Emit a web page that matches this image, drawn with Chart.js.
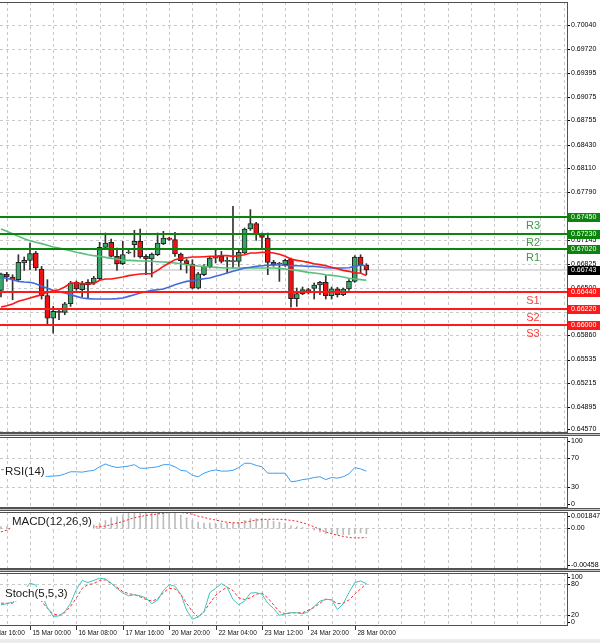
<!DOCTYPE html>
<html>
<head>
<meta charset="utf-8">
<script src="https://cdn.jsdelivr.net/npm/chart.js@4"></script>
<style>
html, body { margin: 0; padding: 0; background: #fff; }
#wrap { position: relative; width: 600px; height: 643px; overflow: hidden; background: #fff; }
#wrap canvas { position: absolute; left: 0; }
.sep { position: absolute; left: 0; width: 600px; height: 1px; background: #c4c4c4; border-top: 1px solid #555; border-bottom: 1px solid #555; z-index: 3; }
.foot { position: absolute; left: 0; top: 639px; width: 600px; height: 4px; background: #ececec; }
</style>
</head>
<body>
<div id="wrap">
  <canvas id="main" width="600" height="434" style="top:0"></canvas>
  <canvas id="rsi" width="600" height="73" style="top:436px"></canvas>
  <canvas id="macd" width="600" height="59" style="top:511px"></canvas>
  <canvas id="stoch" width="600" height="71" style="top:572px"></canvas>
  <div class="sep" style="top:433px"></div>
  <div class="sep" style="top:508px"></div>
  <div class="sep" style="top:569px"></div>
  <div class="foot"></div>
</div>
<script>
// H4 candles, oldest first
const candleOpen = [0.66467,0.66682,0.66647,0.66611,0.66835,0.66871,0.66970,0.66754,0.66395,0.66094,
  0.66184,0.66171,0.66287,0.66575,0.66476,0.66543,0.66566,0.66624,0.67046,0.67114,
  0.66925,0.66826,0.66970,0.67082,0.67127,0.66925,0.66889,0.66947,0.67096,0.67172,
  0.67149,0.66956,0.66867,0.66822,0.66498,0.66678,0.66781,0.66902,0.66925,0.66858,
  0.66853,0.66858,0.66970,0.67293,0.67365,0.67217,0.67172,0.66844,0.66822,0.66813,
  0.66889,0.66355,0.66418,0.66476,0.66494,0.66539,0.66575,0.66395,0.66489,0.66409,
  0.66485,0.66588,0.66916,0.66804];
const candleHigh = [0.66700,0.66709,0.66678,0.66947,0.66916,0.67105,0.66992,0.66790,0.66611,0.66251,
  0.66206,0.66305,0.66588,0.66593,0.66588,0.66611,0.66656,0.67114,0.67239,0.67158,
  0.67037,0.67127,0.67015,0.67275,0.67293,0.66947,0.66970,0.67239,0.67262,0.67181,
  0.67248,0.66970,0.66889,0.66880,0.66709,0.66813,0.66916,0.67015,0.66992,0.66916,
  0.67598,0.67015,0.67307,0.67554,0.67383,0.67239,0.67239,0.66871,0.66844,0.66889,
  0.66902,0.66498,0.66512,0.66494,0.66566,0.66588,0.66665,0.66512,0.66507,0.66498,
  0.66611,0.66934,0.66947,0.66826];
const candleLow = [0.66377,0.66588,0.66341,0.66588,0.66736,0.66745,0.66736,0.66350,0.66004,0.65892,
  0.66072,0.66139,0.66251,0.66467,0.66377,0.66355,0.66543,0.66611,0.67033,0.66916,
  0.66736,0.66813,0.66961,0.66916,0.66902,0.66678,0.66647,0.66934,0.67082,0.67140,
  0.66925,0.66745,0.66700,0.66485,0.66485,0.66665,0.66768,0.66835,0.66835,0.66700,
  0.66768,0.66790,0.66961,0.67275,0.67140,0.67037,0.66678,0.66790,0.66588,0.66790,
  0.66242,0.66251,0.66409,0.66418,0.66350,0.66409,0.66350,0.66350,0.66377,0.66395,
  0.66467,0.66575,0.66700,0.66678];
const candleClose = [0.66691,0.66647,0.66611,0.66844,0.66871,0.66961,0.66768,0.66395,0.66094,0.66184,
  0.66171,0.66287,0.66566,0.66485,0.66552,0.66575,0.66633,0.67046,0.67105,0.66925,
  0.66826,0.66947,0.66972,0.67127,0.66916,0.66889,0.66956,0.67105,0.67172,0.67154,
  0.66956,0.66867,0.66826,0.66498,0.66691,0.66790,0.66902,0.66925,0.66858,0.66860,
  0.66862,0.66979,0.67293,0.67365,0.67217,0.67181,0.66844,0.66813,0.66826,0.66871,
  0.66355,0.66422,0.66476,0.66449,0.66539,0.66575,0.66395,0.66489,0.66409,0.66485,
  0.66588,0.66916,0.66813,0.66743];

// moving averages
const maFast = [0.66242,0.66260,0.66283,0.66319,0.66341,0.66364,0.66386,0.66409,0.66440,0.66462,
  0.66476,0.66512,0.66566,0.66566,0.66557,0.66557,0.66557,0.66602,0.66620,0.66620,
  0.66633,0.66647,0.66665,0.66678,0.66687,0.66691,0.66691,0.66736,0.66790,0.66835,
  0.66880,0.66898,0.66907,0.66916,0.66916,0.66920,0.66925,0.66925,0.66934,0.66934,
  0.66925,0.66934,0.66947,0.66970,0.66970,0.66979,0.66979,0.66970,0.66952,0.66925,
  0.66889,0.66871,0.66858,0.66844,0.66826,0.66813,0.66799,0.66777,0.66759,0.66736,
  0.66723,0.66700,0.66700,0.66665];
const maMid = [0.66642,0.66629,0.66611,0.66588,0.66579,0.66575,0.66557,0.66521,0.66494,0.66467,
  0.66449,0.66431,0.66409,0.66386,0.66364,0.66355,0.66350,0.66350,0.66350,0.66350,
  0.66355,0.66364,0.66386,0.66409,0.66431,0.66449,0.66467,0.66476,0.66485,0.66512,
  0.66543,0.66566,0.66588,0.66597,0.66611,0.66624,0.66633,0.66656,0.66678,0.66700,
  0.66723,0.66745,0.66768,0.66777,0.66790,0.66799,0.66804,0.66808,0.66808,0.66804,
  0.66799,0.66799,0.66795,0.66790,0.66790,0.66781,0.66772,0.66768,0.66768,0.66768,
  0.66772,0.66790,0.66808,0.66799];
const maSlow = [0.67293,0.67262,0.67230,0.67194,0.67163,0.67136,0.67114,0.67096,0.67073,0.67051,
  0.67037,0.67019,0.67001,0.66979,0.66965,0.66947,0.66934,0.66925,0.66911,0.66898,
  0.66889,0.66871,0.66871,0.66867,0.66862,0.66862,0.66858,0.66853,0.66849,0.66844,
  0.66835,0.66826,0.66813,0.66804,0.66795,0.66790,0.66781,0.66777,0.66772,0.66768,
  0.66768,0.66768,0.66768,0.66768,0.66768,0.66768,0.66768,0.66768,0.66763,0.66754,
  0.66745,0.66736,0.66723,0.66709,0.66700,0.66691,0.66678,0.66669,0.66660,0.66647,
  0.66629,0.66620,0.66611,0.66602];

// oscillators
const rsi14 = [54,54,54,52,50,48,46,44.5,44.5,45,
  45.5,48,51,51,50.5,52,53,58,62,59,
  57,58,59,61,56,56,57,58,61,61,
  58,53,52,46,44,49,52,53.6,52,52,
  53,57,63,63,60,58,49,49,49,49,
  37,38,40,41,43,44,40,43,42,44,
  48,57,55,52];
const macdHist = [0.0002,0.0002,0.0003,0.0003,0.0003,0.0003,0.0002,0.0001,0.0000,-0.0001,
  -0.0001,0.0000,0.0001,0.0002,0.0002,0.0003,0.0004,0.0006,0.0009,0.0012,
  0.0013,0.0015,0.0017,0.0018,0.0019,0.0018,0.0018,0.0018,0.0019,0.0019,
  0.0017,0.0015,0.0012,0.0009,0.0007,0.0006,0.0006,0.0006,0.0006,0.0006,
  0.0006,0.0007,0.0009,0.0011,0.0011,0.0011,0.0009,0.0008,0.0007,0.0006,
  0.0003,0.0002,0.0001,0.0000,-0.0002,-0.0004,-0.0006,-0.0006,-0.0007,-0.0007,
  -0.0007,-0.0006,-0.0005,-0.0006];
const macdSignal = [-0.0004,-0.0002,0.00017,0.0003,0.00026,0.00017,0.00012,0.0001,0.00005,0.0,
  0.0,0.0,0.00003,0.00005,0.00008,0.0001,0.00017,0.00017,0.00026,0.00043,
  0.0006,0.00077,0.00099,0.0012,0.00133,0.00146,0.00154,0.00163,0.00171,0.0018,
  0.0018,0.0018,0.00171,0.00159,0.00137,0.00124,0.00107,0.00094,0.00081,0.00069,
  0.00064,0.0006,0.00069,0.00081,0.00094,0.00099,0.00103,0.00103,0.00103,0.00099,
  0.0009,0.00081,0.00064,0.00043,0.00017,-0.00013,-0.00039,-0.0006,-0.00077,-0.0009,
  -0.00103,-0.00107,-0.00107,-0.00103];
const stochMain = [40,42,45,54,67,81,77,60,35,18,
  19,27,43,69,86,82,86,90,89,81,
  71,62,57,59,57,53,42,49,67,78,
  75,60,30,13,17,27,63,71,80,73,
  50,40,47,62,63,60,43,33,20,23,
  25,25,23,27,37,47,50,50,31,42,
  63,82,85,80];
const stochSignal = [43,43,43,50,60,63,57,47,33,23,
  20,25,37,53,71,78,80,86,87,80,
  73,65,61,59,55,50,47,51,63,71,
  70,60,43,27,17,27,43,58,67,73,
  67,53,50,53,60,62,53,40,27,23,
  25,25,25,30,35,43,51,49,42,43,
  49,60,70,80];

// axes and levels
const priceTicks = [0.70040,0.69720,0.69395,0.69075,0.68755,0.68430,0.68110,0.67790,0.67465,
  0.67145,0.66825,0.66500,0.66180,0.65860,0.65535,0.65215,0.64895,0.64570];
const levelNames = ['R3','R2','R1','S1','S2','S3'];
const levelValues = [0.67450,0.67230,0.67020,0.66440,0.66220,0.66000];
const lastPrice = 0.66743;
const timeLabels = ['14 Mar 16:00','15 Mar 00:00','16 Mar 08:00','17 Mar 16:00','20 Mar 20:00',
  '22 Mar 04:00','23 Mar 12:00','24 Mar 20:00','28 Mar 00:00'];
const timeLabelBars = [-3,5,13,21,29,37,45,53,61];

const bars = candleOpen.map((_, i) => i);
const FONT = '"Liberation Sans", Arial, sans-serif';
const xScale = { type: 'linear', display: false, min: -0.17, max: 97.59, offset: false };

function pts(arr) { return arr.map((v, i) => ({ x: bars[i], y: v })); }

function vGrid(chart) {
  const { ctx, chartArea: a, scales: { x } } = chart;
  ctx.save();
  ctx.strokeStyle = '#c8c8c8'; ctx.lineWidth = 1; ctx.setLineDash([3, 3]);
  for (let b = -3; b <= 97; b += 4) {
    const px = Math.round(x.getPixelForValue(b)) + 0.5;
    if (px < a.left || px > a.right) continue;
    ctx.beginPath(); ctx.moveTo(px, a.top); ctx.lineTo(px, a.bottom); ctx.stroke();
  }
  ctx.restore();
}
function hGrid(chart, values) {
  const { ctx, chartArea: a, scales: { y } } = chart;
  ctx.save();
  ctx.strokeStyle = '#c8c8c8'; ctx.lineWidth = 1; ctx.setLineDash([3, 3]);
  values.forEach(v => {
    const py = Math.round(y.getPixelForValue(v)) + 0.5;
    ctx.beginPath(); ctx.moveTo(a.left, py); ctx.lineTo(a.right, py); ctx.stroke();
  });
  ctx.restore();
}
function frame(chart) {
  const { ctx, chartArea: a } = chart;
  ctx.save();
  ctx.strokeStyle = '#505050'; ctx.lineWidth = 1;
  ctx.beginPath();
  ctx.moveTo(a.left, a.top + 0.5); ctx.lineTo(a.right + 1, a.top + 0.5);
  ctx.moveTo(a.right + 0.5, a.top); ctx.lineTo(a.right + 0.5, a.bottom);
  ctx.moveTo(a.left, a.bottom - 0.5); ctx.lineTo(a.right + 1, a.bottom - 0.5);
  ctx.stroke();
  ctx.restore();
}
function yLabels(chart, values, fmt) {
  const { ctx, chartArea: a, scales: { y } } = chart;
  ctx.save();
  ctx.font = '7px ' + FONT; ctx.fillStyle = '#000';
  ctx.textBaseline = 'middle'; ctx.textAlign = 'left';
  values.forEach(v => {
    let py = y.getPixelForValue(v);
    py = Math.min(Math.max(py, a.top + 4), a.bottom - 4);
    ctx.fillRect(a.right + 1, Math.round(py), 2, 1);
    ctx.fillText(fmt(v), a.right + 4, py);
  });
  ctx.restore();
}
function panelTitle(chart, text, x, dy) {
  const { ctx, chartArea: a } = chart;
  ctx.save();
  ctx.font = '11.5px ' + FONT; ctx.textBaseline = 'middle'; ctx.textAlign = 'left';
  const w = ctx.measureText(text).width;
  const cy = a.top + dy;
  ctx.fillStyle = '#fff';
  ctx.fillRect(x - 1, cy - 7, w + 2, 14);
  ctx.fillStyle = '#1a1a1a';
  ctx.fillText(text, x, cy);
  ctx.restore();
}
function priceBox(chart, value, fill, label) {
  const { ctx, chartArea: a, scales: { y } } = chart;
  const py = Math.round(y.getPixelForValue(value));
  ctx.save();
  ctx.fillStyle = fill;
  ctx.fillRect(a.right + 1, py - 4, 600 - a.right - 1, 9);
  ctx.fillStyle = '#fff'; ctx.font = '7px ' + FONT;
  ctx.textBaseline = 'middle'; ctx.textAlign = 'left';
  ctx.fillText(label, a.right + 4, py + 0.5);
  ctx.restore();
}

const mainPlugin = {
  id: 'mainDecor',
  beforeDatasetsDraw(chart) {
    hGrid(chart, priceTicks);
    vGrid(chart);
    const { ctx, chartArea: a, scales: { y } } = chart;
    const py = Math.round(y.getPixelForValue(lastPrice));
    ctx.save(); ctx.strokeStyle = '#dcdcdc'; ctx.lineWidth = 2;
    ctx.beginPath(); ctx.moveTo(a.left, py); ctx.lineTo(a.right, py); ctx.stroke();
    ctx.restore();
  },
  afterDatasetsDraw(chart) {
    const { ctx, chartArea: a, scales: { y } } = chart;
    ctx.save();
    levelValues.forEach((v, k) => {
      const isR = levelNames[k][0] === 'R';
      const py = Math.round(y.getPixelForValue(v));
      ctx.strokeStyle = isR ? '#0a840a' : '#ff1a1a';
      ctx.lineWidth = 2;
      ctx.beginPath(); ctx.moveTo(a.left, py); ctx.lineTo(a.right, py); ctx.stroke();
      ctx.fillStyle = isR ? '#3d9e3d' : '#ff3b3b';
      ctx.font = '11px ' + FONT; ctx.textAlign = 'center'; ctx.textBaseline = 'middle';
      ctx.fillText(levelNames[k], 533, py + 9);
    });
    ctx.restore();
    frame(chart);
    yLabels(chart, priceTicks, v => v.toFixed(5));
    levelValues.forEach((v, k) => {
      priceBox(chart, v, levelNames[k][0] === 'R' ? '#0a840a' : '#ff1a1a', v.toFixed(5));
    });
    priceBox(chart, lastPrice, '#000', lastPrice.toFixed(5));
  }
};

new Chart(document.getElementById('main'), {
  type: 'bar',
  data: {
    datasets: [
      { type: 'line', data: pts(maFast), borderColor: '#ff1414', borderWidth: 1.6, pointRadius: 0, order: 1 },
      { type: 'line', data: pts(maMid), borderColor: '#4169e1', borderWidth: 1.6, pointRadius: 0, order: 1 },
      { type: 'line', data: pts(maSlow), borderColor: '#55c07a', borderWidth: 1.6, pointRadius: 0, order: 1 },
      {
        type: 'bar', grouped: false, order: 2,
        data: bars.map(i => ({ x: i, y: [candleOpen[i], candleClose[i]] })),
        backgroundColor: bars.map(i => candleClose[i] >= candleOpen[i] ? '#3aa56a' : '#f01010'),
        borderColor: '#222', borderWidth: 1, borderSkipped: false,
        barThickness: 5, minBarLength: 1
      },
      {
        type: 'bar', grouped: false, order: 3,
        data: bars.map(i => ({ x: i, y: [candleLow[i], candleHigh[i]] })),
        backgroundColor: '#333', barThickness: 1
      }
    ]
  },
  options: {
    responsive: false, animation: false,
    layout: { padding: { top: 2, bottom: 1, left: 0, right: 33 } },
    scales: { x: xScale, y: { display: false, min: 0.64546, max: 0.70350 } },
    plugins: { legend: { display: false }, tooltip: { enabled: false } }
  },
  plugins: [mainPlugin]
});

function oscPlugin(id, gridVals, labelVals, fmt, title, tx, tdy, extra) {
  return {
    id,
    beforeDatasetsDraw(chart) { hGrid(chart, gridVals); vGrid(chart); },
    afterDatasetsDraw(chart) {
      panelTitle(chart, title, tx, tdy);
      frame(chart);
      yLabels(chart, labelVals, fmt);
      if (extra) extra(chart);
    }
  };
}

new Chart(document.getElementById('rsi'), {
  type: 'line',
  data: { datasets: [{ data: pts(rsi14), borderColor: '#3d9df0', borderWidth: 1, pointRadius: 0 }] },
  options: {
    responsive: false, animation: false,
    layout: { padding: { top: 1, bottom: 1, left: 0, right: 33 } },
    scales: { x: xScale, y: { display: false, min: 0, max: 100 } },
    plugins: { legend: { display: false }, tooltip: { enabled: false } }
  },
  plugins: [oscPlugin('rsiDecor', [70, 30], [100, 70, 30, 0], v => String(v), 'RSI(14)', 5, 35)]
});

new Chart(document.getElementById('macd'), {
  type: 'bar',
  data: {
    datasets: [
      { type: 'line', data: pts(macdSignal), borderColor: '#ff2020', borderWidth: 1, borderDash: [2, 2], pointRadius: 0, order: 1 },
      { type: 'bar', grouped: false, data: pts(macdHist), backgroundColor: '#bdbdbd', barThickness: 1, order: 2 }
    ]
  },
  options: {
    responsive: false, animation: false,
    layout: { padding: { top: 1, bottom: 1, left: 0, right: 33 } },
    scales: { x: xScale, y: { display: false, min: -0.00458, max: 0.001847 } },
    plugins: { legend: { display: false }, tooltip: { enabled: false } }
  },
  plugins: [oscPlugin('macdDecor', [0], [0.001847, 0, -0.00458],
    v => v === 0 ? '0.00' : (v > 0 ? v.toFixed(6) : v.toFixed(5)), 'MACD(12,26,9)', 12, 10)]
});

function timeAxis(chart) {
  const { ctx, chartArea: a, scales: { x } } = chart;
  ctx.save();
  ctx.strokeStyle = '#333'; ctx.fillStyle = '#111'; ctx.lineWidth = 1;
  ctx.font = '6.5px ' + FONT; ctx.textBaseline = 'middle'; ctx.textAlign = 'left';
  timeLabelBars.forEach((b, k) => {
    const px = Math.round(x.getPixelForValue(b)) + 0.5;
    ctx.beginPath(); ctx.moveTo(px, a.bottom); ctx.lineTo(px, a.bottom + 4); ctx.stroke();
    ctx.fillText(timeLabels[k], px + 2, a.bottom + 7);
  });
  ctx.restore();
}

new Chart(document.getElementById('stoch'), {
  type: 'line',
  data: {
    datasets: [
      { data: pts(stochMain), borderColor: '#3cc4be', borderWidth: 1, pointRadius: 0 },
      { data: pts(stochSignal), borderColor: '#ff3030', borderWidth: 1, borderDash: [3, 2], pointRadius: 0 }
    ]
  },
  options: {
    responsive: false, animation: false,
    layout: { padding: { top: 1, bottom: 17, left: 0, right: 33 } },
    scales: { x: xScale, y: { display: false, min: 0, max: 100 } },
    plugins: { legend: { display: false }, tooltip: { enabled: false } }
  },
  plugins: [oscPlugin('stochDecor', [80, 20], [100, 80, 20, 0], v => String(v), 'Stoch(5,5,3)', 5, 21, timeAxis)]
});
</script>
</body>
</html>
